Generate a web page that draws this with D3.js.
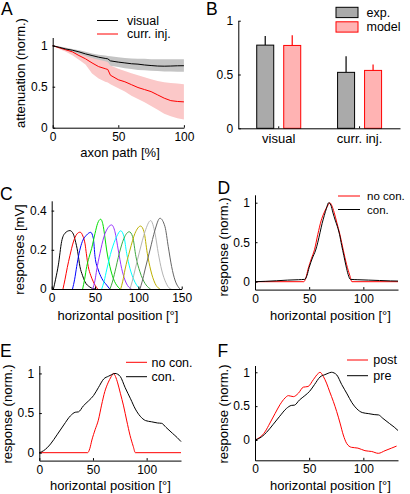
<!DOCTYPE html>
<html><head><meta charset="utf-8">
<script src="https://cdn.jsdelivr.net/npm/d3@7"></script>
<style>
html,body{margin:0;padding:0;background:#fff;}
svg text{font-family:"Liberation Sans",Arial,Helvetica,sans-serif;fill:#000;}
</style></head>
<body>
<svg id="fig" width="410" height="494"></svg>
<script>
// ---------- Panel A data ----------
const axonPath = [0,5,10,15,20,25,30,35,40,42,44,50,55,60,65,70,75,80,85,90,95,100];
const visualMean  = [1,0.98,0.96,0.945,0.925,0.9,0.88,0.86,0.845,0.84,0.815,0.8,0.79,0.78,0.775,0.765,0.758,0.752,0.75,0.752,0.755,0.756];
const visualUpper = [1,0.99,0.975,0.96,0.945,0.925,0.905,0.89,0.88,0.875,0.87,0.86,0.85,0.845,0.84,0.84,0.835,0.835,0.835,0.835,0.835,0.835];
const visualLower = [1,0.97,0.945,0.925,0.9,0.875,0.85,0.83,0.81,0.8,0.755,0.74,0.725,0.715,0.705,0.7,0.695,0.69,0.685,0.685,0.683,0.683];
const injMean  = [1,0.975,0.95,0.925,0.88,0.84,0.79,0.745,0.72,0.71,0.64,0.585,0.56,0.525,0.49,0.465,0.44,0.4,0.36,0.33,0.32,0.315];
const injUpper = [1,0.99,0.975,0.955,0.93,0.91,0.88,0.85,0.83,0.82,0.76,0.72,0.69,0.665,0.64,0.615,0.59,0.57,0.555,0.545,0.54,0.53];
const injLower = [1,0.96,0.925,0.885,0.83,0.77,0.66,0.6,0.56,0.55,0.53,0.48,0.44,0.39,0.35,0.31,0.265,0.22,0.17,0.14,0.115,0.1];
const legendA = ["visual","curr. inj."];

// ---------- Panel B data ----------
const barCategories = ["visual","curr. inj."];
const barSeries = ["exp.","model"];
const barExp = [0.773,0.52];
const barExpErr = [0.857,0.67];
const barModel = [0.77,0.538];
const barModelErr = [0.865,0.594];

// ---------- Panel C data ----------
const cBlack  = [[2,0],[4.5,0.05],[7.7,0.123],[11.5,0.243],[15.4,0.285],[21,0.298],[25,0.28],[27,0.25],[30,0.19],[32.6,0.114],[35.5,0.07],[38.4,0.037],[44,0.01],[50,0]];
const cRed    = [[13,0],[15.4,0.05],[18,0.11],[21,0.17],[25,0.24],[29,0.28],[32.7,0.29],[36,0.27],[38.5,0.23],[40,0.18],[42.2,0.114],[45,0.07],[48,0.037],[53,0]];
const cBlue   = [[24,0],[26.5,0.05],[28.8,0.114],[31.5,0.18],[34.6,0.233],[40.4,0.276],[45,0.289],[48,0.259],[50,0.165],[53.8,0.097],[57.7,0.055],[63.4,0.02],[67,0]];
const cGreen  = [[35.7,0],[38,0.05],[40.4,0.114],[43,0.16],[46.1,0.207],[50,0.284],[53,0.335],[56.5,0.356],[59.6,0.318],[61.5,0.26],[63.4,0.199],[67.2,0.114],[71,0.055],[76.8,0.009],[79,0]];
const cPurple = [[47.3,0],[50,0.045],[51.9,0.097],[55.7,0.182],[60.3,0.267],[65.3,0.315],[69.2,0.327],[73,0.292],[76.8,0.199],[80.7,0.105],[84.5,0.046],[90.3,0.004],[92,0]];
const cCyan   = [[57.7,0],[60.5,0.04],[63.4,0.097],[69.2,0.199],[74.9,0.267],[79.6,0.297],[83.4,0.267],[86.5,0.182],[90.3,0.105],[94.9,0.046],[99.9,0.009],[102,0]];
const cGreen2 = [[67.2,0],[70,0.035],[73,0.088],[78,0.182],[83.4,0.259],[89.5,0.292],[93.4,0.267],[97.2,0.165],[101.8,0.088],[107.6,0.029],[112.6,0.004],[114,0]];
const cOlive  = [[79.6,0],[82,0.04],[84.5,0.097],[90.3,0.199],[96.1,0.284],[102.6,0.321],[106.5,0.292],[110.3,0.182],[114.2,0.097],[119.2,0.029],[124.1,0.002],[125,0]];
const cLight  = [[90.3,0],[93,0.04],[96.1,0.097],[101.8,0.199],[107.6,0.292],[114.2,0.349],[119.2,0.284],[123,0.182],[126.9,0.097],[131.8,0.032],[136.4,0.002],[138,0]];
const cDark   = [[101.8,0],[104.5,0.04],[107.6,0.097],[113.4,0.199],[119.2,0.301],[124.9,0.361],[130.7,0.318],[134.5,0.216],[138.4,0.114],[142.2,0.046],[147.2,0.004],[148,0]];
const cCurves = [cBlack,cRed,cBlue,cGreen,cPurple,cCyan,cGreen2,cOlive,cLight,cDark];
const cColors = ["#000000","#ff0000","#0000ff","#00e000","#9933ff","#00ffff","#40a840","#bdb000","#b4b4b4","#666666"];

// ---------- Panels D/E/F data ----------
const dCon = [[0,0],[10,0.005],[20,0.012],[30,0.02],[40,0.025],[46,0.03],[48,0.08],[50,0.18],[53,0.3],[56,0.4],[58,0.5],[60,0.62],[62,0.74],[64,0.84],[66,0.93],[68,1.0],[70,0.97],[72,0.87],[74,0.78],[76,0.7],[78,0.6],[80,0.46],[82,0.33],[84,0.2],[86,0.09],[88,0.03],[95,0.025],[105,0.02],[115,0.015],[125,0.01],[132,0.008]];
const noCon = [[0,0],[45,0],[47,0.05],[49,0.16],[52,0.29],[55,0.41],[58,0.6],[61,0.77],[64,0.88],[67,0.96],[69,1.0],[71,0.96],[73,0.88],[75.5,0.75],[78.5,0.59],[81.5,0.4],[84.5,0.22],[87.5,0.08],[89.5,0],[132,0]];
const preCurve = [[0,0],[4,0.025],[10.5,0.11],[16.5,0.225],[22.8,0.35],[29,0.465],[33.5,0.51],[36.5,0.515],[41,0.59],[46,0.655],[50.5,0.72],[55,0.82],[60,0.93],[64.5,0.965],[67.5,0.985],[70.5,1.0],[73,0.99],[75.5,0.96],[80,0.82],[85,0.68],[89.5,0.55],[94,0.46],[99,0.405],[104.5,0.39],[110,0.375],[114,0.37],[118,0.32],[124,0.245],[128.5,0.19],[132,0.14]];
const postCurve = [[0,0],[4.6,0.04],[9.2,0.12],[13.8,0.25],[18.5,0.39],[23,0.52],[27.7,0.62],[30.8,0.655],[35.4,0.64],[40,0.69],[44.6,0.78],[49,0.79],[53.8,0.89],[58.5,0.985],[60,1.0],[63,0.94],[66,0.84],[69,0.71],[72.3,0.57],[75.4,0.42],[78.5,0.25],[81.5,0.074],[84.6,-0.05],[89,-0.108],[95,-0.12],[101.5,-0.158],[107.7,-0.17],[113.8,-0.197],[120,-0.158],[126,-0.12],[130.7,-0.09]];

const xTicksA = [0,50,100], yTicksA = [0,0.5,1];
const yTicksB = [0,0.5,1];
const xTicksC = [0,50,100,150], yTicksC = [0,0.2,0.4];
const xTicksDEF = [0,50,100], yTicksDEF = [0,0.5,1];

// ---------- drawing ----------
const svg = d3.select("#fig");
const TICK_FS = 12, LAB_FS = 13, LEG_FS = 12.5;
const fmt = d => d3.format("~g")(d);

function axes(g, x, y, xt, yt) {
  const ax = g.append("g").attr("transform", `translate(0,${y.range()[0]})`)
    .call(d3.axisBottom(x).tickValues(xt).tickFormat(fmt).tickSize(-2.5).tickSizeOuter(0).tickPadding(4.5));
  const ay = g.append("g").attr("transform", `translate(${x.range()[0]},0)`)
    .call(d3.axisLeft(y).tickValues(yt).tickFormat(fmt).tickSize(-2.5).tickSizeOuter(0).tickPadding(5));
  [ax, ay].forEach(a => {
    a.selectAll("text").attr("font-size", TICK_FS).style("font-family", '"Liberation Sans",Arial,sans-serif');
    a.select(".domain").attr("stroke", "#000");
    a.selectAll(".tick line").attr("stroke", "#000");
  });
}
function ylabel(txt, x, y) {
  svg.append("text").attr("transform", `translate(${x},${y}) rotate(-90)`)
    .attr("text-anchor", "middle").attr("font-size", LAB_FS).text(txt);
}
function xlabel(txt, x, y) {
  svg.append("text").attr("x", x).attr("y", y).attr("text-anchor", "middle")
    .attr("font-size", LAB_FS).text(txt);
}
function panelLabel(t, x, y) {
  svg.append("text").attr("x", x).attr("y", y).attr("font-size", 17.5).text(t);
}
function lineLegend(items, x1, x2, tx, ys, fs) {
  items.forEach((it, i) => {
    svg.append("line").attr("x1", x1).attr("x2", x2).attr("y1", ys[i]).attr("y2", ys[i])
      .attr("stroke", it.color).attr("stroke-width", 1);
    svg.append("text").attr("x", tx).attr("y", ys[i] + 4.2).attr("font-size", fs || LEG_FS).text(it.label);
  });
}
function drawLine(g, data, x, y, color, curve) {
  g.append("path").datum(data).attr("fill", "none").attr("stroke", color).attr("stroke-width", 1)
    .attr("d", d3.line().x(d => x(d[0])).y(d => y(d[1])).curve(curve || d3.curveLinear));
}

// Panel A
{
  const g = svg.append("g");
  const x = d3.scaleLinear([0,100],[52.7,183.9]);
  const y = d3.scaleLinear([0,1.1],[127.7,37.5]);
  const idx = d3.range(axonPath.length);
  g.append("path").datum(idx).attr("fill","#fbc8c8")
    .attr("d", d3.area().x(i=>x(axonPath[i])).y0(i=>y(injLower[i])).y1(i=>y(injUpper[i])));
  g.append("path").datum(idx).attr("fill","#c4c4c4")
    .attr("d", d3.area().x(i=>x(axonPath[i])).y0(i=>y(visualLower[i])).y1(i=>y(visualUpper[i])));
  drawLine(g, idx.map(i=>[axonPath[i], injMean[i]]), x, y, "#ff0000");
  drawLine(g, idx.map(i=>[axonPath[i], visualMean[i]]), x, y, "#000000");
  axes(g, x, y, xTicksA, yTicksA);
  ylabel("attenuation (norm.)", 25, 73);
  xlabel("axon path [%]", 120, 156.5);
  panelLabel("A", 1, 15);
  lineLegend([{label:legendA[0],color:"#000"},{label:legendA[1],color:"#ff0000"}], 97, 118, 127, [20.5, 34]);
}

// Panel B
{
  const g = svg.append("g");
  const x0 = d3.scaleBand(barCategories, [238.3, 400]);
  const x1 = d3.scaleBand(barSeries, [x0.bandwidth()/2 - 22, x0.bandwidth()/2 + 22]).paddingInner(0.37);
  const y = d3.scaleLinear([0,1],[128.3,20.7]);
  const vals = {"exp.": barExp, "model": barModel};
  const errs = {"exp.": barExpErr, "model": barModelErr};
  const fills = {"exp.": "#aaaaaa", "model": "#ffb3b3"};
  const strokes = {"exp.": "#000000", "model": "#ff0000"};
  barCategories.forEach((c, ci) => {
    barSeries.forEach(s => {
      const bx = x0(c) + x1(s), bw = x1.bandwidth();
      g.append("line").attr("x1", bx + bw/2).attr("x2", bx + bw/2)
        .attr("y1", y(vals[s][ci])).attr("y2", y(errs[s][ci])).attr("stroke", strokes[s]).attr("stroke-width", 1.2);
      g.append("rect").attr("x", bx).attr("y", y(vals[s][ci])).attr("width", bw)
        .attr("height", y(0) - y(vals[s][ci])).attr("fill", fills[s]).attr("stroke", strokes[s]).attr("stroke-width", 1);
    });
  });
  const ax = g.append("g").attr("transform", `translate(0,${y(0)})`)
    .call(d3.axisBottom(x0).tickSize(-2).tickSizeOuter(0).tickPadding(5));
  ax.selectAll("text").attr("font-size", LAB_FS).style("font-family", '"Liberation Sans",Arial,sans-serif');
  ax.select(".domain").attr("stroke", "#000");
  const ay = g.append("g").attr("transform", `translate(238.3,0)`)
    .call(d3.axisLeft(y).tickValues(yTicksB).tickFormat(fmt).tickSize(-2.5).tickSizeOuter(0).tickPadding(5));
  ay.selectAll("text").attr("font-size", TICK_FS).style("font-family", '"Liberation Sans",Arial,sans-serif');
  ay.select(".domain").attr("stroke", "#000");
  panelLabel("B", 206, 15);
  // legend
  [[7.3, barSeries[0]], [21.8, barSeries[1]]].forEach(([yy, s]) => {
    svg.append("rect").attr("x", 336).attr("y", yy).attr("width", 22).attr("height", 10.3)
      .attr("fill", fills[s]).attr("stroke", strokes[s]).attr("stroke-width", 1);
    svg.append("text").attr("x", 366.5).attr("y", yy + 9.3).attr("font-size", LEG_FS).text(s);
  });
}

// Panel C
{
  const g = svg.append("g");
  const x = d3.scaleLinear([0,150],[51.7,181.7]);
  const y = d3.scaleLinear([0,0.45],[289,200.8]);
  cCurves.forEach((c, i) => drawLine(g, c, x, y, cColors[i], d3.curveMonotoneX));
  axes(g, x, y, xTicksC, yTicksC);
  ylabel("responses [mV]", 23.5, 249.5);
  xlabel("horizontal position [°]", 118, 320);
  panelLabel("C", 0, 200);
}

// Panel D
{
  const g = svg.append("g");
  const x = d3.scaleLinear([0,132],[255,398]);
  const y = d3.scaleLinear([-0.1,1.1],[289.6,194.8]);
  drawLine(g, noCon, x, y, "#ff0000", d3.curveMonotoneX);
  drawLine(g, dCon, x, y, "#000000", d3.curveMonotoneX);
  axes(g, x, y, xTicksDEF, yTicksDEF);
  ylabel("response (norm.)", 228, 247);
  xlabel("horizontal position [°]", 330.5, 320);
  panelLabel("D", 217.5, 193.5);
  lineLegend([{label:"no con.",color:"#ff0000"},{label:"con.",color:"#000"}], 338, 360, 367, [196, 209.5], 11.5);
}

// Panel E
{
  const g = svg.append("g");
  const x = d3.scaleLinear([0,132],[39.3,181]);
  const y = d3.scaleLinear([-0.1,1.1],[460.6,365.5]);
  drawLine(g, noCon, x, y, "#ff0000", d3.curveMonotoneX);
  drawLine(g, preCurve, x, y, "#000000", d3.curveMonotoneX);
  axes(g, x, y, xTicksDEF, yTicksDEF);
  ylabel("response (norm.)", 11.5, 414);
  xlabel("horizontal position [°]", 110.5, 490);
  panelLabel("E", 0, 356.5);
  lineLegend([{label:"no con.",color:"#ff0000"},{label:"con.",color:"#000"}], 126, 147, 151.5, [362.3, 376.7]);
}

// Panel F
{
  const g = svg.append("g");
  const x = d3.scaleLinear([0,132],[255,398]);
  const y = d3.scaleLinear([-0.3,1.1],[460.3,365.5]);
  drawLine(g, postCurve, x, y, "#ff0000", d3.curveMonotoneX);
  drawLine(g, preCurve, x, y, "#000000", d3.curveMonotoneX);
  axes(g, x, y, xTicksDEF, yTicksDEF);
  ylabel("response (norm.)", 228, 414);
  xlabel("horizontal position [°]", 330.5, 490);
  panelLabel("F", 217.5, 356.5);
  lineLegend([{label:"post",color:"#ff0000"},{label:"pre",color:"#000"}], 347, 368, 373.3, [360, 375.7]);
}
</script>
</body></html>
